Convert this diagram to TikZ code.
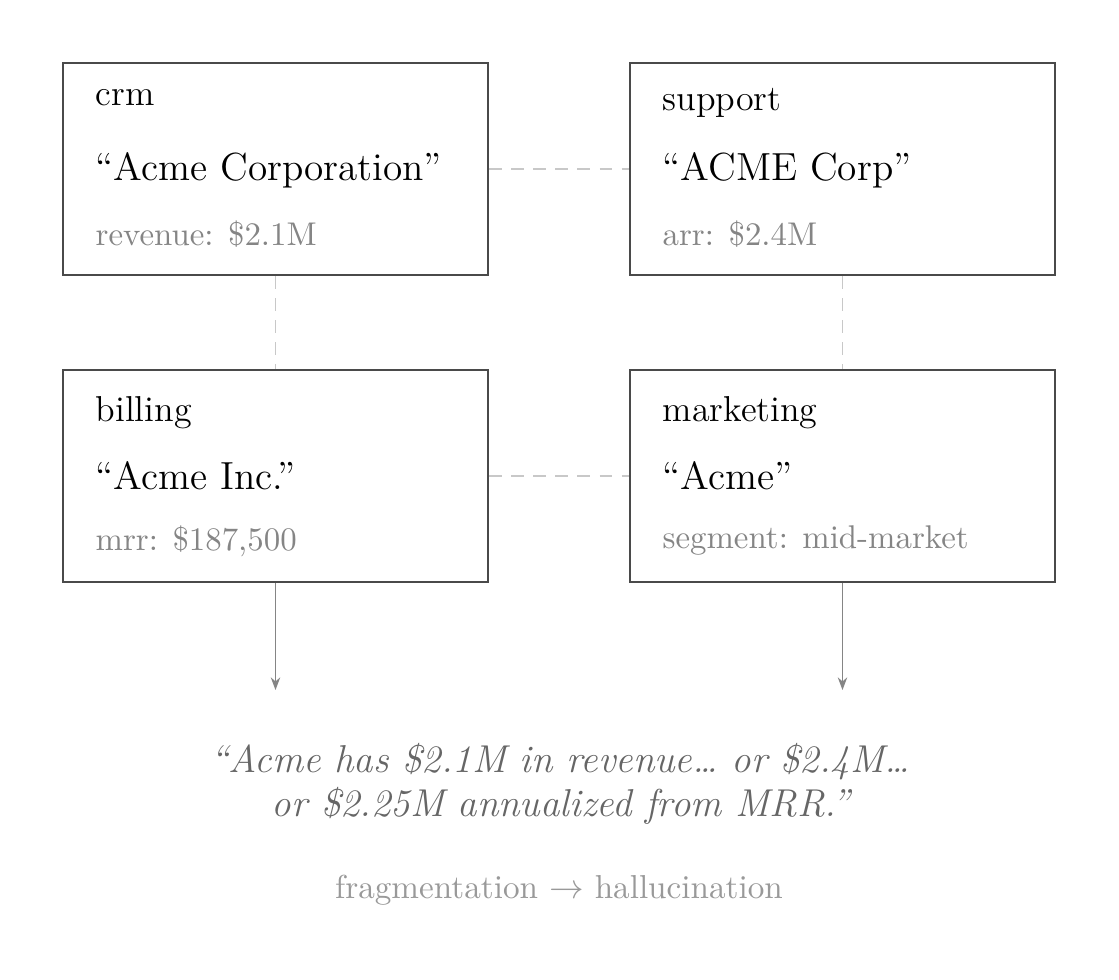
\documentclass[tikz,border=0pt]{standalone}
\usetikzlibrary{arrows.meta}
\definecolor{boxline}{HTML}{4A4A4A}
\definecolor{dashc}{HTML}{C8C8C8}
\definecolor{arrc}{HTML}{858585}
\definecolor{detailc}{HTML}{858585}
\definecolor{quotec}{HTML}{666666}
\definecolor{capc}{HTML}{999999}
\tikzset{
  box/.style={draw=boxline, line width=0.6pt, rectangle, inner sep=0pt,
    minimum width=134.5pt, minimum height=67.1pt},
  lbl/.style={anchor=base west, inner sep=0pt, font=\fontsize{11.4}{13.5}\selectfont},
  nm/.style={anchor=base west, inner sep=0pt, font=\fontsize{12.4}{15}\selectfont},
  det/.style={anchor=base west, inner sep=0pt, text=detailc, font=\fontsize{10.4}{12.5}\selectfont},
  dashline/.style={draw=dashc, line width=0.35pt, dash pattern=on 4pt off 3pt},
  arr/.style={draw=arrc, line width=0.4pt, -{Stealth[length=4pt, width=3pt]}},
  quotetext/.style={anchor=base, inner sep=0pt, text=quotec, font=\fontsize{12.3}{14.8}\selectfont\itshape},
  captext/.style={anchor=base, inner sep=0pt, text=capc, font=\fontsize{10.5}{12.5}\selectfont},
}
\begin{document}
\begin{tikzpicture}[x=0.3164pt, y=-0.3164pt]
\useasboundingbox (0,0) rectangle (1119,980);
% boxes
\node[box] (crm) at (275.5,169) {};
\node[box] (support) at (842.5,169) {};
\node[box] (billing) at (275.5,476) {};
\node[box] (marketing) at (842.5,476) {};
% texts
\node[lbl] (crmL) at (95,106) {crm};
\node[nm] (crmN) at (95,181) {``Acme Corporation''};
\node[det] (crmD) at (95,246) {revenue: \$2.1M};
\node[lbl] (supL) at (662,111) {support};
\node[nm] (supN) at (662,181) {``ACME Corp''};
\node[det] (supD) at (662,246) {arr: \$2.4M};
\node[lbl] (bilL) at (95,421) {billing};
\node[nm] (bilN) at (95,489) {``Acme Inc.''};
\node[det] (bilD) at (95,550) {mrr: \$187,500};
\node[lbl] (mktL) at (662,421) {marketing};
\node[nm] (mktN) at (662,489) {``Acme''};
\node[det] (mktD) at (662,549) {segment: mid-market};
% dashed connectors
\draw[dashline] (crm.east) -- (support.west);
\draw[dashline] (billing.east) -- (marketing.west);
\draw[dashline] (crm.south) -- (billing.north);
\draw[dashline] (support.south) -- (marketing.north);
% arrows
\coordinate (endA) at (275.5,690);
\coordinate (endB) at (842.5,690);
\draw[arr] (billing.south) -- (endA);
\draw[arr] (marketing.south) -- (endB);
% quote
\node[quotetext] (q1) at (560,773) {``Acme has \$2.1M in revenue… or \$2.4M…};
\node[quotetext] (q2) at (561,816) {or \$2.25M annualized from MRR.''};
\node[captext] (capline) at (559,898) {fragmentation $\rightarrow$ hallucination};
\end{tikzpicture}
\end{document}
